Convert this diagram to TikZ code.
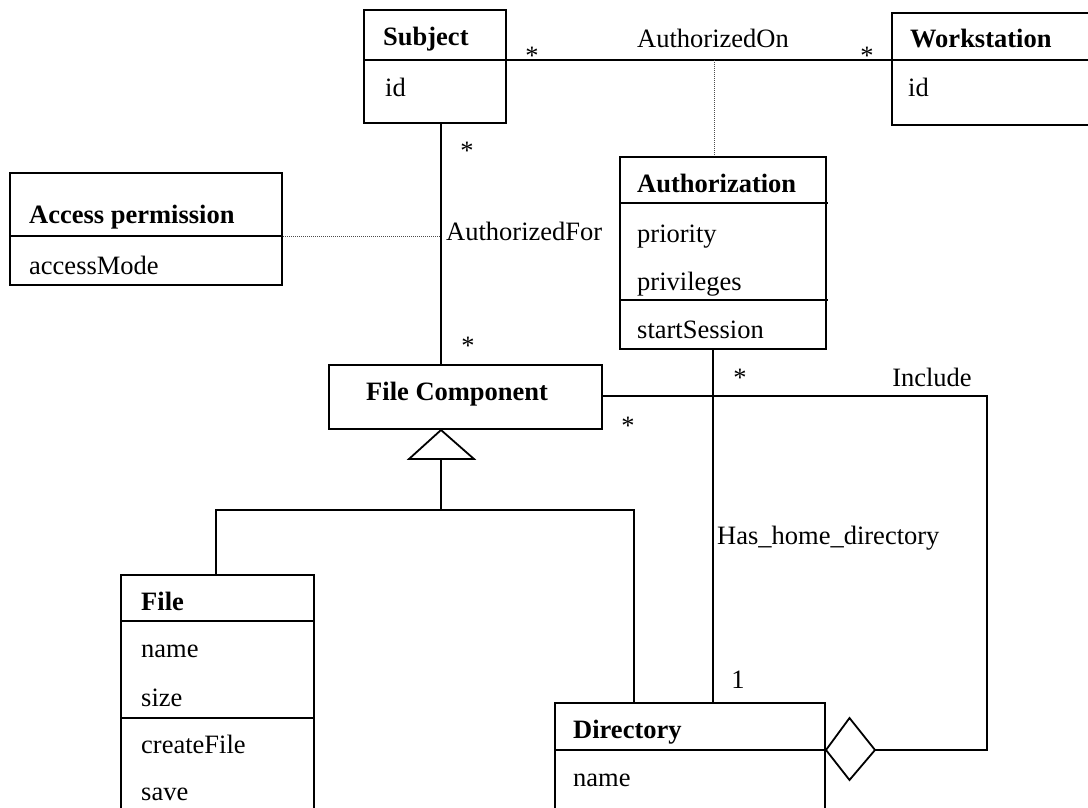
\documentclass[tikz,border=0pt]{standalone}
\usepackage{fontspec}
\setmainfont{Liberation Serif}
\begin{document}
\begin{tikzpicture}[x=1pt,y=-1pt,
  cls/.style={draw, line width=2pt, inner sep=0pt, anchor=north west, rectangle},
  lbl/.style={anchor=base west, inner sep=0pt, font=\fontsize{26.5}{30}\selectfont},
  ttl/.style={anchor=base west, inner sep=0pt, font=\fontsize{26.5}{30}\selectfont\bfseries},
  mult/.style={anchor=base, inner sep=0pt, font=\fontsize{26.5}{30}\selectfont},
  sepline/.style={line width=2pt},
  assoc/.style={line width=1.8pt},
  thinassoc/.style={line width=1.4pt},
  dotl/.style={line width=1pt, densely dotted, black!70},
]
\useasboundingbox (0,0) rectangle (1088,808);
\clip (0,0) rectangle (1088,808);

% ---------- classes ----------
\node[cls, minimum width=142pt, minimum height=113pt] (subj) at (363,9) {};
\node[cls, minimum width=220pt, minimum height=112pt] (ws) at (891,12) {};
\node[cls, minimum width=206pt, minimum height=192pt] (auth) at (619,156) {};
\node[cls, minimum width=272pt, minimum height=112pt] (acc) at (9,172) {};
\node[cls, minimum width=273pt, minimum height=64pt] (fc) at (328,364) {};
\node[cls, minimum width=193pt, minimum height=300pt] (file) at (120,574) {};
\node[cls, minimum width=270pt, minimum height=200pt] (dir) at (554,702) {};

% compartment separators
\draw[sepline] (subj.west |- 0,60) -- (subj.east |- 0,60);
\draw[sepline] (ws.west |- 0,60) -- (ws.east |- 0,60);
\draw[sepline] (auth.west |- 0,203) -- (828,203);
\draw[sepline] (auth.west |- 0,300) -- (828,300);
\draw[sepline] (acc.west |- 0,236) -- (acc.east |- 0,236);
\draw[sepline] (file.west |- 0,621) -- (file.east |- 0,621);
\draw[sepline] (file.west |- 0,718) -- (file.east |- 0,718);
\draw[sepline] (dir.west |- 0,750) -- (dir.east |- 0,750);

% ---------- texts ----------
\node[ttl] (tsubj) at (383,46) {Subject};
\node[lbl] (tsubjid) at (385,96) {id};
\node[ttl] (tws) at (910,48) {Workstation};
\node[lbl] (twsid) at (908,96) {id};
\node[ttl] (tauth) at (637,192) {Authorization};
\node[lbl] (tprio) at (637,242) {priority};
\node[lbl] (tpriv) at (637,290) {privileges};
\node[lbl] (tstart) at (637,338) {startSession};
\node[ttl] (tacc) at (29,223) {Access permission};
\node[lbl] (tmode) at (29,274) {accessMode};
\node[ttl] (tfc) at (366,400) {File Component};
\node[ttl] (tfile) at (141,610) {File};
\node[lbl] (tfname) at (141,657) {name};
\node[lbl] (tfsize) at (141,706) {size};
\node[lbl] (tfcreate) at (141,753) {createFile};
\node[lbl] (tfsave) at (141,800) {save};
\node[ttl] (tdir) at (573,738) {Directory};
\node[lbl] (tdname) at (573,786) {name};

% association labels
\node[mult] (lon) at (713,48) {AuthorizedOn};
\node[lbl] (lfor) at (446,240) {AuthorizedFor};
\node[lbl] (lhome) at (717,544) {Has\_home\_directory};
\node[mult] (linc) at (932,386) {Include};

% multiplicities
\node[mult] (m1) at (532,64.5) {*};
\node[mult] (m2) at (867,64.5) {*};
\node[mult] (m3) at (467,159.5) {*};
\node[mult] (m4) at (468,354.5) {*};
\node[mult] (m5) at (628,434.5) {*};
\node[mult] (m6) at (740,386.5) {*};
\node[mult] (m7) at (738,688) {1};

% ---------- lane coordinates ----------
\coordinate (xfor) at (441,0);
\coordinate (xon) at (714,0);
\coordinate (xhome) at (713,0);
\coordinate (xinc) at (987,0);
\coordinate (xfile) at (216,0);
\coordinate (xdir) at (634,0);
\coordinate (ygen) at (0,510);
\coordinate (yinc) at (0,396);
\coordinate (ydia) at (0,750);

% AuthorizedOn
\draw[assoc] (subj.east |- 0,60) -- (ws.west |- 0,60);
\draw[dotl] (xon |- 0,60) -- (xon |- auth.north);

% AuthorizedFor
\draw[assoc] (xfor |- subj.south) -- (xfor |- fc.north);
\draw[dotl] (acc.east |- 0,236) -- (xfor |- 0,236);

% generalization
\coordinate (apex) at (xfor |- fc.south);
\coordinate (tbl) at (409,459);
\coordinate (tbr) at (474,459);
\coordinate (tbm) at (441,459);
\draw[assoc, line join=miter] (apex) -- (tbr) -- (tbl) -- cycle;
\draw[assoc] (tbm) -- (xfor |- ygen);
\draw[assoc] (xfile |- file.north) -- (xfile |- ygen) -- (xdir |- ygen) -- (xdir |- dir.north);

% Has_home_directory
\draw[thinassoc] (xhome |- auth.south) -- (xhome |- dir.north);

% Include (aggregation)
\coordinate (dl) at (dir.east |- ydia);
\coordinate (dt) at (849.5,718);
\coordinate (dr) at (875,750);
\coordinate (db) at (849.5,780);
\draw[assoc, line join=miter] (dl) -- (dt) -- (dr) -- (db) -- cycle;
\draw[assoc] (fc.east |- yinc) -- (xinc |- yinc) -- (xinc |- ydia) -- (dr);
\end{tikzpicture}
\end{document}
